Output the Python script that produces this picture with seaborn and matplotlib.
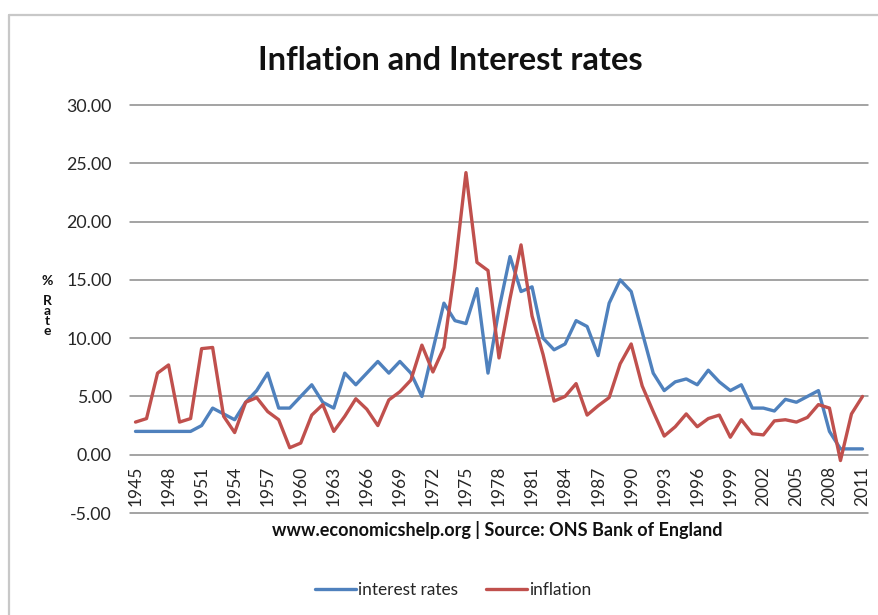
import numpy as np
import pandas as pd
import matplotlib
matplotlib.use("Agg")
import matplotlib.pyplot as plt
from matplotlib.lines import Line2D
import seaborn as sns

years = list(range(1945, 2012))
interest_rates = [2.0, 2.0, 2.0, 2.0, 2.0, 2.0, 2.5, 4.0, 3.5, 3.0,
                  4.5, 5.5, 7.0, 4.0, 4.0, 5.0, 6.0, 4.5, 4.0, 7.0,
                  6.0, 7.0, 8.0, 7.0, 8.0, 7.0, 5.0, 9.0, 13.0, 11.5,
                  11.25, 14.25, 7.0, 12.5, 17.0, 14.0, 14.4, 10.0, 9.0, 9.5,
                  11.5, 11.0, 8.5, 13.0, 15.0, 14.0, 10.5, 7.0, 5.5, 6.25,
                  6.5, 6.0, 7.25, 6.25, 5.5, 6.0, 4.0, 4.0, 3.75, 4.75,
                  4.5, 5.0, 5.5, 2.0, 0.5, 0.5, 0.5]
inflation = [2.8, 3.1, 7.0, 7.7, 2.8, 3.1, 9.1, 9.2, 3.3, 1.9,
             4.5, 4.9, 3.7, 3.0, 0.6, 1.0, 3.4, 4.3, 2.0, 3.3,
             4.8, 3.9, 2.5, 4.7, 5.4, 6.4, 9.4, 7.1, 9.2, 16.0,
             24.2, 16.5, 15.8, 8.3, 13.4, 18.0, 11.9, 8.6, 4.6, 5.0,
             6.1, 3.4, 4.2, 4.9, 7.8, 9.5, 5.9, 3.7, 1.6, 2.4,
             3.5, 2.4, 3.1, 3.4, 1.5, 3.0, 1.8, 1.7, 2.9, 3.0,
             2.8, 3.2, 4.3, 4.0, -0.5, 3.5, 5.0]
series_names = ["interest rates", "inflation"]
y_ticks = [-5, 0, 5, 10, 15, 20, 25, 30]
tick_years = years[::3]

title = "Inflation and Interest rates"
caption = "www.economicshelp.org | Source: ONS Bank of England"
ylabel = "% Rate"

df = pd.DataFrame({
    "idx": list(range(len(years))) * 2,
    "value": interest_rates + inflation,
    "series": [series_names[0]] * len(years) + [series_names[1]] * len(years),
})

sns.set_theme(style="white")
plt.rcParams["font.family"] = ["Lato", "DejaVu Sans"]

W, H = 879, 615
fig = plt.figure(figsize=(W / 100, H / 100), dpi=100)
fig.patch.set_facecolor("white")

left, right, top, bottom = 130, 868, 105, 513
ax = fig.add_axes([left / W, 1 - bottom / H, (right - left) / W, (bottom - top) / H])

palette = {series_names[0]: "#4F81BD", series_names[1]: "#C0504D"}
sns.lineplot(data=df, x="idx", y="value", hue="series", palette=palette,
             linewidth=2.4, ax=ax, legend=True)
for ln in ax.lines:
    ln.set_solid_joinstyle("round")
    ln.set_solid_capstyle("round")
    ln.set_zorder(3)

ax.set_xlim(-0.5, len(years) - 0.5)
ax.set_ylim(-5, 30)
ax.set_yticks(y_ticks)
ax.set_yticklabels([f"{v:.2f}" for v in y_ticks], fontsize=12.8, color="#262626")
ax.set_xticks([years.index(y) for y in tick_years])
ax.set_xticklabels([str(y) for y in tick_years], rotation=90, fontsize=12.5, color="#262626")
ax.tick_params(axis="y", length=0, pad=13)
ax.tick_params(axis="x", length=0, pad=-34)
ax.set_xlabel("")
ax.set_ylabel("")
for s in ax.spines.values():
    s.set_visible(False)

for v in y_ticks:
    ax.axhline(v, color="#8a8a8a", linewidth=1.1, zorder=1, clip_on=False)

sns.move_legend(ax, "center", bbox_to_anchor=(453 / W, 1 - 590 / H),
                bbox_transform=fig.transFigure, ncol=2, frameon=False, title=None,
                fontsize=12.4, handlelength=2.4, handletextpad=0.1, columnspacing=1.6)

fig.text(450 / W, 1 - 60 / H, title, ha="center", va="center",
         fontsize=23.5, fontweight="bold", color="#111111")
fig.text(497 / W, 1 - 530 / H, caption, ha="center", va="center",
         fontsize=13, fontweight="bold", color="#111111")
fig.text(47 / W, 1 - 306 / H, "%\n \nR\na\nt\ne", ha="center", va="center",
         fontsize=10, fontweight="bold", linespacing=0.8, color="#111111")

# outer border (partial frame as in the screenshot)
fig.add_artist(Line2D([9 / W, 9 / W], [0, 1 - 15 / H], transform=fig.transFigure,
                      color="#c8c8c8", linewidth=1.6))
fig.add_artist(Line2D([9 / W, 1], [1 - 15 / H, 1 - 15 / H], transform=fig.transFigure,
                      color="#c8c8c8", linewidth=1.6))

fig.savefig("out.png", dpi=100, facecolor="white")
